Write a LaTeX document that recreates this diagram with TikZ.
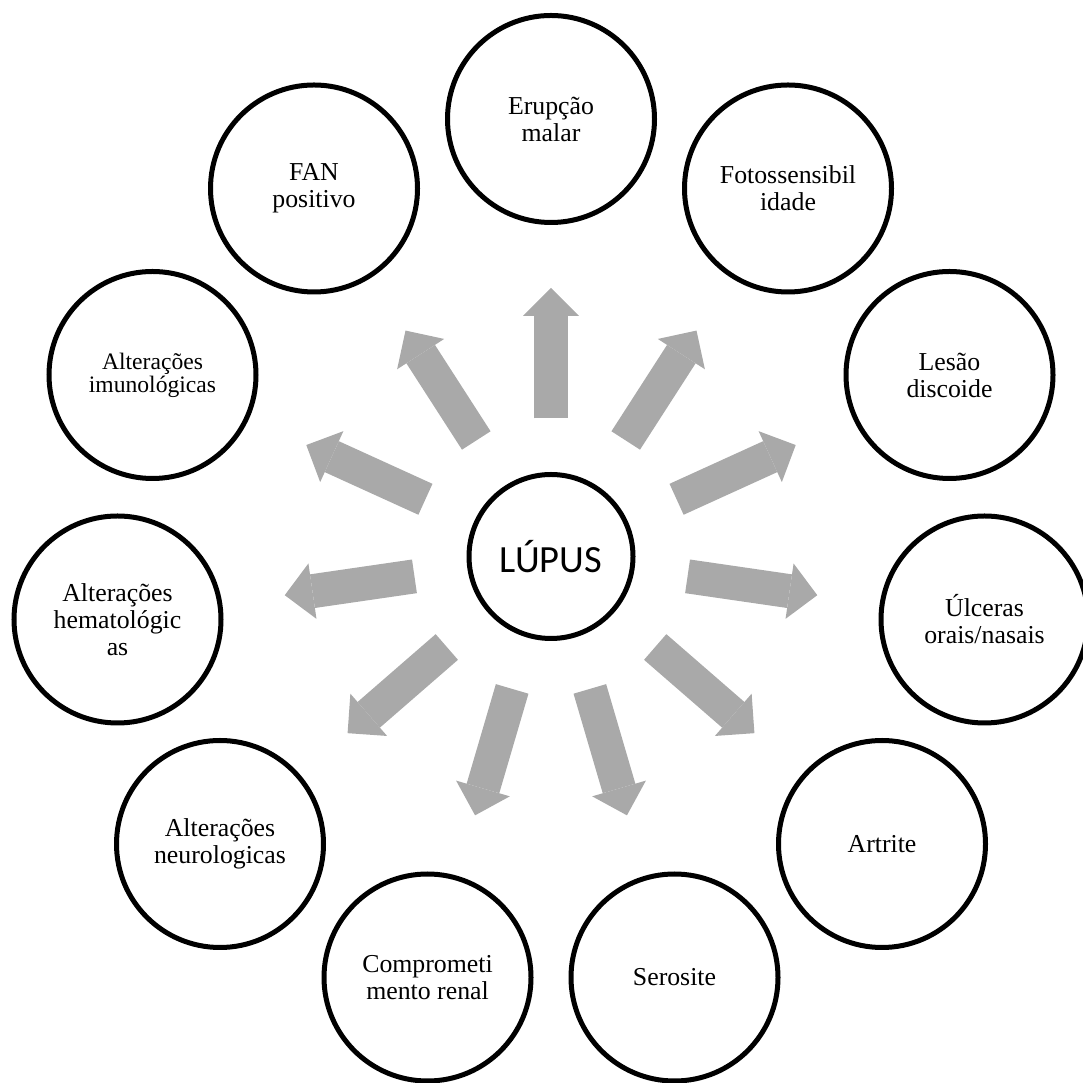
\documentclass[tikz,border=0pt]{standalone}
\usepackage{fontspec}
\setmainfont{Liberation Serif}
\newfontfamily\hubfont{Carlito}
\usetikzlibrary{arrows.meta}
\definecolor{arrowgray}{RGB}{169,169,169}

\begin{document}
\begin{tikzpicture}[x=1pt,y=1pt,
  crit/.style={circle,draw,line width=5pt,minimum size=207pt,inner sep=0pt,align=center,font=\fontsize{25.8}{27}\selectfont},
  hub/.style={circle,draw,line width=5pt,minimum size=164pt,inner sep=0pt,font=\hubfont\fontsize{38.5}{40}\selectfont},
  link/.style={draw=arrowgray,line width=34pt,shorten <=138pt,shorten >=169pt,-{Triangle[length=28pt,width=56pt,line width=0pt]}}]
  \useasboundingbox (0,0) rectangle (1083,1083);
  \node[hub] (lupus) at (551,526.5) {LÚPUS};
  \node[crit] (malar) at (551,964) {Erupção\\malar};
  \node[crit] (foto) at (788,894.5) {Fotossensibil\\idade};
  \node[crit] (discoide) at (949.5,708) {Lesão\\discoide};
  \node[crit] (ulceras) at (984.5,463.5) {Úlceras\\orais/nasais};
  \node[crit] (artrite) at (882,239) {Artrite};
  \node[crit] (serosite) at (674.5,105.5) {Serosite};
  \node[crit] (renal) at (427.5,105.5) {Comprometi\\mento renal};
  \node[crit] (neuro) at (220,239) {Alterações\\neurologicas};
  \node[crit] (hemato) at (117.5,463.5) {Alterações\\hematológic\\as};
  \node[crit,font=\fontsize{23.6}{23}\selectfont] (imuno) at (152.5,708) {Alterações\\imunológicas};
  \node[crit] (fan) at (314,894.5) {FAN\\positivo};
  % arrows out of the centre
  \draw[link] (lupus.center) -- (malar.center);
  \draw[link] (lupus.center) -- (foto.center);
  \draw[link] (lupus.center) -- (discoide.center);
  \draw[link] (lupus.center) -- (ulceras.center);
  \draw[link] (lupus.center) -- (artrite.center);
  \draw[link] (lupus.center) -- (serosite.center);
  \draw[link] (lupus.center) -- (renal.center);
  \draw[link] (lupus.center) -- (neuro.center);
  \draw[link] (lupus.center) -- (hemato.center);
  \draw[link] (lupus.center) -- (imuno.center);
  \draw[link] (lupus.center) -- (fan.center);
\end{tikzpicture}
\end{document}
